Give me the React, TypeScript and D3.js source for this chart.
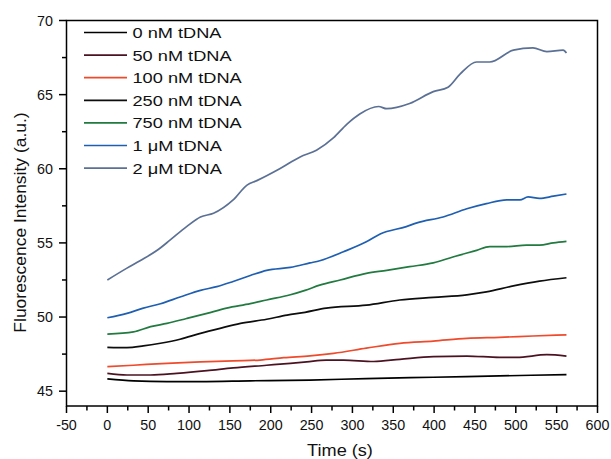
import React from "react";
import * as d3 from "d3";

const seriesNames = ["0 nM tDNA", "50 nM tDNA", "100 nM tDNA", "250 nM tDNA", "750 nM tDNA", "1 μM tDNA", "2 μM tDNA"];
const seriesColors = ["#000000", "#4b1322", "#ef4a2c", "#0d0d0d", "#217a3f", "#1f5fb2", "#5b7095"];

const s0nM: [number, number][] = [[0,45.83],[32,45.7],[73,45.65],[114,45.65],[175,45.7],[248,45.75],[317,45.85],[399,45.94],[480,46.03],[562,46.12]];
const s50nM: [number, number][] = [[0,46.2],[24,46.09],[53,46.09],[85,46.2],[122,46.38],[154,46.57],[195,46.75],[224,46.88],[244,46.98],[268,47.1],[289,47.1],[326,47.0],[358,47.15],[399,47.33],[440,47.37],[480,47.28],[501,47.28],[538,47.46],[562,47.37]];
const s100nM: [number, number][] = [[0,46.65],[32,46.75],[73,46.88],[114,46.97],[154,47.05],[187,47.1],[216,47.26],[248,47.38],[277,47.55],[317,47.9],[358,48.23],[399,48.38],[440,48.56],[480,48.63],[521,48.72],[562,48.8]];
const s250nM: [number, number][] = [[0,47.96],[24,47.94],[44,48.05],[65,48.23],[89,48.5],[114,48.9],[138,49.24],[163,49.57],[195,49.85],[220,50.13],[242,50.32],[268,50.6],[317,50.8],[358,51.15],[399,51.33],[440,51.5],[464,51.7],[497,52.1],[529,52.42],[562,52.65]];
const s750nM: [number, number][] = [[0,48.85],[32,49.0],[53,49.35],[73,49.57],[97,49.9],[122,50.25],[146,50.6],[175,50.9],[195,51.15],[224,51.5],[242,51.8],[260,52.15],[285,52.5],[317,52.95],[342,53.15],[370,53.4],[399,53.65],[423,54.05],[452,54.5],[468,54.75],[489,54.75],[513,54.85],[529,54.85],[546,55.0],[562,55.1]];
const s1uM: [number, number][] = [[0,49.95],[24,50.25],[44,50.6],[65,50.9],[89,51.35],[114,51.8],[134,52.05],[154,52.4],[175,52.8],[195,53.15],[224,53.35],[248,53.65],[260,53.8],[289,54.4],[317,55.07],[334,55.6],[366,56.1],[379,56.35],[411,56.75],[440,57.3],[464,57.65],[489,57.9],[505,57.9],[515,58.1],[529,58.0],[546,58.15],[562,58.3]];
const s2uM: [number, number][] = [[0,52.5],[24,53.3],[40,53.8],[61,54.5],[77,55.2],[97,56.1],[114,56.75],[130,57.0],[154,57.9],[171,58.9],[183,59.2],[211,60.0],[236,60.8],[256,61.25],[277,62.1],[293,63.0],[309,63.7],[332,64.2],[342,64.05],[370,64.4],[399,65.2],[417,65.5],[432,66.4],[452,67.2],[468,67.2],[497,68.0],[521,68.15],[538,67.9],[558,68.0],[562,67.8]];

const allSeries = [s0nM, s50nM, s100nM, s250nM, s750nM, s1uM, s2uM];

const xMajorTicks = [-50, 0, 50, 100, 150, 200, 250, 300, 350, 400, 450, 500, 550, 600];
const yMajorTicks = [45, 50, 55, 60, 65, 70];

const W = 611, H = 459;
const L = 66.5, R = 597.5, T = 20.5, B = 406;
const FONT = "'Liberation Sans', Arial, Helvetica, sans-serif";

export default function App() {
  const x = d3.scaleLinear().domain([-50, 600]).range([L, R]);
  const y = d3.scaleLinear().domain([44, 70]).range([B, T]);
  const line = d3.line<[number, number]>().x(d => x(d[0])).y(d => y(d[1])).curve(d3.curveMonotoneX);
  const xMinor = xMajorTicks.slice(0, -1).map(v => v + 25);
  const yMinor = yMajorTicks.slice(0, -1).map(v => v + 2.5);

  return (
    <svg width={W} height={H} style={{ position: "absolute", left: 0, top: 0, background: "#fff" }} fontFamily={FONT}>
      <rect x={0} y={0} width={W} height={H} fill="#fff" />
      {allSeries.map((s, i) => (
        <path key={i} d={line(s) || ""} fill="none" stroke={seriesColors[i]} strokeWidth={1.7} strokeLinejoin="round" />
      ))}
      <rect x={L} y={T} width={R - L} height={B - T} fill="none" stroke="#000" strokeWidth={1.5} />
      {xMajorTicks.map(v => (
        <g key={"xt" + v}>
          <line x1={x(v)} x2={x(v)} y1={B} y2={B + 7} stroke="#000" strokeWidth={1.5} />
          <text x={x(v)} y={430} fontSize={14.3} textAnchor="middle" fill="#111">{v}</text>
        </g>
      ))}
      {xMinor.map(v => (
        <line key={"xm" + v} x1={x(v)} x2={x(v)} y1={B} y2={B + 4.5} stroke="#000" strokeWidth={1.5} />
      ))}
      {yMajorTicks.map(v => (
        <g key={"yt" + v}>
          <line x1={L - 7.5} x2={L} y1={y(v)} y2={y(v)} stroke="#000" strokeWidth={1.5} />
          <text x={53} y={y(v) + 5} fontSize={14.3} textAnchor="end" fill="#111">{v}</text>
        </g>
      ))}
      {yMinor.map(v => (
        <line key={"ym" + v} x1={L - 4.5} x2={L} y1={y(v)} y2={y(v)} stroke="#000" strokeWidth={1.5} />
      ))}
      <text transform={`translate(340,456) scale(1.1,1)`} fontSize={16.5} textAnchor="middle" fill="#111">Time (s)</text>
      <text transform={`translate(25.5,222.5) rotate(-90) scale(1.04,1)`} fontSize={16.8} textAnchor="middle" fill="#111">Fluorescence Intensity (a.u.)</text>
      {seriesNames.map((n, i) => {
        const ly = 32.5 + i * 22.6;
        return (
          <g key={"lg" + i}>
            <line x1={84} x2={127} y1={ly} y2={ly} stroke={seriesColors[i]} strokeWidth={1.7} />
            <text transform={`translate(132.5,${ly + 5.5}) scale(1.19,1)`} fontSize={15.3} fill="#111">{n}</text>
          </g>
        );
      })}
    </svg>
  );
}
